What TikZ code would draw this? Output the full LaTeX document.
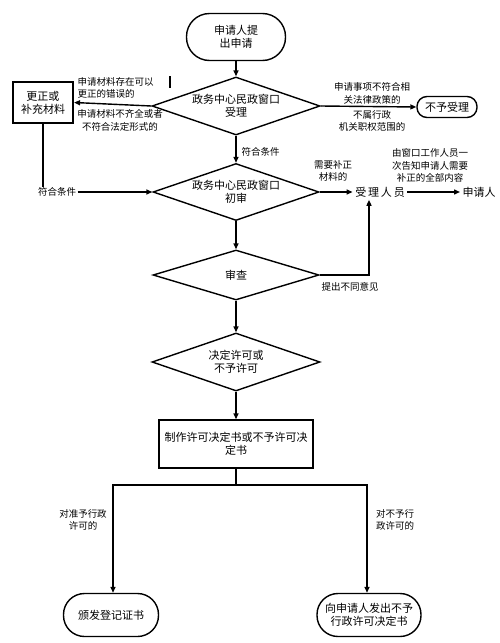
\documentclass[tikz,border=0pt]{standalone}
\usepackage{fontspec}
\newfontfamily\cjk{Noto Sans CJK SC}
\usetikzlibrary{shapes.geometric,arrows.meta}
\begin{document}
\begin{tikzpicture}[x=1pt,y=-1pt,
  line width=1.4pt,
  >={Triangle[length=6pt,width=5pt]},
  main/.style={font=\cjk\fontsize{11}{13}\selectfont, align=center},
  lbl/.style={font=\cjk\fontsize{9.5}{12.5}\selectfont, align=center, inner sep=1pt},
  term/.style={main, draw, rectangle},
  dia/.style={main, draw, diamond, inner sep=0pt, aspect=2.9},
  box/.style={main, draw, rectangle}]
\useasboundingbox (0,0) rectangle (500,643);

% nodes
\node[term, minimum width=99pt, minimum height=47pt, rounded corners=23pt] (start) at (236,37) {申请人提\\出申请};
\node[dia, minimum width=168pt, minimum height=58pt] (d1) at (236,106) {政务中心民政窗口\\受理};
\node[term, minimum width=60pt, minimum height=21pt, rounded corners=10pt] (rej) at (447,107) {不予受理};
\node[box, line width=2.2pt, minimum width=60pt, minimum height=41pt] (fix) at (43,102.5) {更正或\\补充材料};
\node[dia, minimum width=166pt, minimum height=57pt] (d2) at (236,192) {政务中心民政窗口\\初审};
\node[main, inner sep=2pt] (staff) at (380,192) {受\,理\,人\,员};
\node[main, anchor=west, inner sep=2pt] (app) at (460,192) {申请人};
\node[dia, minimum width=166pt, minimum height=50pt, aspect=3.3] (d3) at (236,275) {审查};
\node[dia, minimum width=168pt, minimum height=58pt] (d4) at (236,362) {决定许可或\\不予许可};
\node[box, minimum width=154pt, minimum height=48pt] (make) at (236,444) {制作许可决定书或不予许可决\\定书};
\node[term, minimum width=95pt, minimum height=43pt, rounded corners=21pt] (issue) at (111,615) {颁发登记证书};
\node[term, minimum width=104pt, minimum height=43pt, rounded corners=21pt] (deny) at (369,615) {向申请人发出不予\\行政许可决定书};

% labels
\node[lbl, align=left, anchor=west] (la1) at (76,88) {申请材料存在可以\\更正的错误的};
\node[lbl] (la2) at (120,120.5) {申请材料不齐全或者\\不符合法定形式的};
\node[lbl] (lr1) at (372,93.5) {申请事项不符合相\\关法律政策的};
\node[lbl] (lr2) at (372,121) {不属行政\\机关职权范围的};
\node[lbl] (ok2) at (57,192) {符合条件};
\node[lbl, anchor=west] (ok1) at (240,152) {符合条件};
\node[lbl] (need) at (333,171) {需要补正\\材料的};
\node[lbl] (tell) at (430,165.5) {由窗口工作人员一\\次告知申请人需要\\补正的全部内容};
\node[lbl] (dis) at (350,287) {提出不同意见};
\node[lbl] (yes) at (83,520) {对准予行政\\许可的};
\node[lbl] (no) at (395,520) {对不予行\\政许可的};

% stray mark
\draw[line width=1.5pt] (170,76) -- (170,88);

% connectors
\draw[->] (start) -- (d1);
\draw[->] (d1.east) -- (rej.west);
\draw[->] (d1.west) -- (fix.east);
\coordinate (c1) at (43,187);
\draw (fix.south) -- (c1);
\draw[->] (ok2.east) -- (d2.west);
\draw[->] (d1.south) -- (d2.north);
\draw[->] (d2.east) -- (staff.west);
\draw[->] (staff.east) -- (app.west);
\draw[->] (d2.south) -- (d3.north);
\coordinate (k) at (369,275);
\draw[->] (d3.east) -- (k) -- (k |- staff.south);
\draw[->] (d3.south) -- (d4.north);
\draw[->] (d4.south) -- (make.north);
\coordinate (j) at (236,485);
\coordinate (jl) at (113,485);
\coordinate (jr) at (367,485);
\draw (make.south) -- (j);
\draw[->] (j) -- (jl) -- (jl |- issue.north);
\draw[->] (j) -- (jr) -- (jr |- deny.north);
\end{tikzpicture}
\end{document}
